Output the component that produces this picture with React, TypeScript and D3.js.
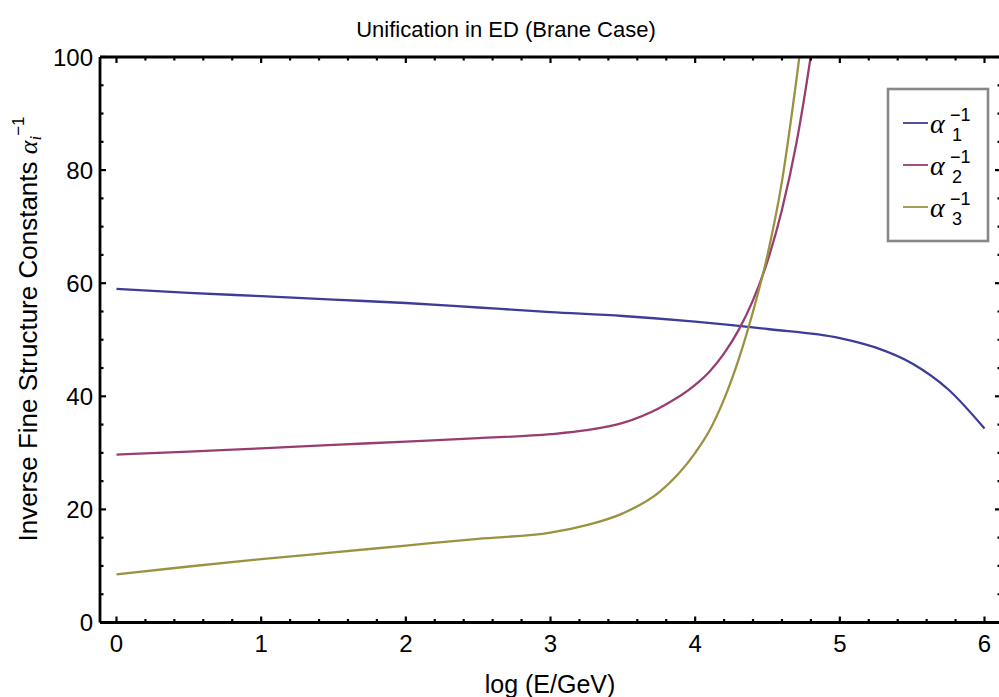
import React from "react";
import * as d3 from "d3";

// ---- data ----
const blueX = [0, 0.5, 1, 1.5, 2, 2.5, 3, 3.5, 4, 4.5, 5, 5.25, 5.5, 5.75, 6];
const blueY = [59.0, 58.3, 57.7, 57.1, 56.5, 55.7, 54.9, 54.2, 53.2, 51.9, 50.3, 48.6, 45.8, 41.2, 34.3];

const purpleX = [0, 0.5, 1, 1.5, 2, 2.5, 3, 3.25, 3.5, 3.75, 4, 4.1, 4.2, 4.3, 4.4, 4.5, 4.6, 4.7, 4.8, 4.86];
const purpleY = [29.7, 30.2, 30.8, 31.4, 32.0, 32.6, 33.3, 34.0, 35.3, 37.9, 42.0, 44.4, 47.6, 51.7, 57.0, 63.9, 73.0, 84.8, 100.3, 111];

const oliveX = [0, 0.5, 1, 1.5, 2, 2.5, 3, 3.25, 3.5, 3.75, 4, 4.1, 4.2, 4.3, 4.4, 4.5, 4.6, 4.7, 4.78];
const oliveY = [8.5, 9.9, 11.2, 12.4, 13.6, 14.8, 15.9, 17.2, 19.3, 23.0, 30.0, 34.0, 39.5, 46.5, 55.0, 65.0, 78.0, 96.0, 112];

const seriesNames = ["1", "2", "3"];
const seriesColors = ["#3d3d99", "#993d71", "#9a9240"];

const xMajorTicks = [0, 1, 2, 3, 4, 5, 6];
const yMajorTicks = [0, 20, 40, 60, 80, 100];

const titleText = "Unification in ED (Brane Case)";
const xLabelText = "log (E/GeV)";
const yLabelText = "Inverse Fine Structure Constants ";

export default function App() {
  const W = 999;
  const H = 697;
  const left = 100, right = 1001, top = 57, bottom = 622.5;
  const x = d3.scaleLinear().domain([-0.114, 6.114]).range([left, right]);
  const y = d3.scaleLinear().domain([0, 100]).range([bottom, top]);

  const xMinor = d3.range(0, 6.0001, 0.2).filter((v) => Math.abs(v - Math.round(v)) > 1e-6);
  const yMinor = d3.range(0, 100.001, 5).filter((v) => v % 20 !== 0);

  const line = d3
    .line<[number, number]>()
    .x((d) => x(d[0]))
    .y((d) => y(d[1]))
    .curve(d3.curveMonotoneX);

  const series = [
    blueX.map((v, i) => [v, blueY[i]] as [number, number]),
    purpleX.map((v, i) => [v, purpleY[i]] as [number, number]),
    oliveX.map((v, i) => [v, oliveY[i]] as [number, number]),
  ];

  const font = "'Liberation Sans', Arial, sans-serif";
  const mathFont = "'Liberation Serif', 'Times New Roman', serif";
  const majorLen = 6;
  const minorLen = 3.5;
  const axisW = 2.8;

  const legendX = 888, legendY = 89, legendW = 100, legendH = 152;
  const legendRows = [123, 165, 207];

  return (
    <svg
      width={W}
      height={H}
      style={{ position: "absolute", left: 0, top: 0, background: "#fff" }}
    >
      <defs>
        <clipPath id="plotClip">
          <rect x={left} y={top} width={right - left} height={bottom - top} />
        </clipPath>
      </defs>

      {/* title */}
      <text x={506} y={37} textAnchor="middle" fontFamily={font} fontSize={22} fill="#000">
        {titleText}
      </text>

      {/* curves */}
      <g clipPath="url(#plotClip)">
        {series.map((s, i) => (
          <path key={i} d={line(s) || ""} fill="none" stroke={seriesColors[i]} strokeWidth={2.3} />
        ))}
      </g>

      {/* frame */}
      <g stroke="#000" strokeWidth={axisW} fill="none">
        <line x1={left} y1={bottom} x2={right} y2={bottom} />
        <line x1={left} y1={top} x2={right} y2={top} />
        <line x1={left} y1={top} x2={left} y2={bottom} />
        <line x1={right} y1={top} x2={right} y2={bottom} />
      </g>

      {/* ticks */}
      <g stroke="#000" strokeWidth={2.2}>
        {xMajorTicks.map((t) => (
          <g key={"xm" + t}>
            <line x1={x(t)} x2={x(t)} y1={bottom} y2={bottom - majorLen} />
            <line x1={x(t)} x2={x(t)} y1={top} y2={top + majorLen} />
          </g>
        ))}
        {xMinor.map((t, i) => (
          <g key={"xn" + i}>
            <line x1={x(t)} x2={x(t)} y1={bottom} y2={bottom - minorLen} />
            <line x1={x(t)} x2={x(t)} y1={top} y2={top + minorLen} />
          </g>
        ))}
        {yMajorTicks.map((t) => (
          <g key={"ym" + t}>
            <line x1={left} x2={left + majorLen} y1={y(t)} y2={y(t)} />
            <line x1={right} x2={right - majorLen} y1={y(t)} y2={y(t)} />
          </g>
        ))}
        {yMinor.map((t, i) => (
          <g key={"yn" + i}>
            <line x1={left} x2={left + minorLen} y1={y(t)} y2={y(t)} />
            <line x1={right} x2={right - minorLen} y1={y(t)} y2={y(t)} />
          </g>
        ))}
      </g>

      {/* tick labels */}
      <g fontFamily={font} fontSize={24} fill="#000">
        {xMajorTicks.map((t) => (
          <text key={"xl" + t} x={x(t)} y={652} textAnchor="middle">
            {t}
          </text>
        ))}
        {yMajorTicks.map((t) => (
          <text key={"yl" + t} x={93} y={y(t) + 8.5} textAnchor="end">
            {t}
          </text>
        ))}
      </g>

      {/* axis labels */}
      <text x={550} y={693} textAnchor="middle" fontFamily={font} fontSize={25} fill="#000">
        {xLabelText}
      </text>
      <text
        transform={`translate(37, 329) rotate(-90)`}
        textAnchor="middle"
        fontFamily={font}
        fontSize={26}
        fill="#000"
      >
        {yLabelText}
        <tspan fontFamily={mathFont} fontStyle="italic" fontSize={26}>α</tspan>
        <tspan fontFamily={mathFont} fontStyle="italic" fontSize={17} dy={4}>i</tspan>
        <tspan fontSize={17} dy={-17}>−1</tspan>
      </text>

      {/* legend */}
      <rect
        x={legendX}
        y={legendY}
        width={legendW}
        height={legendH}
        fill="#fff"
        stroke="#888"
        strokeWidth={2.6}
      />
      {seriesNames.map((n, i) => {
        const ry = legendRows[i];
        return (
          <g key={"lg" + i}>
            <line x1={903} x2={928} y1={ry} y2={ry} stroke={seriesColors[i]} strokeWidth={1.8} />
            <text x={930} y={ry + 10} fontFamily={mathFont} fontStyle="italic" fontSize={28} fill="#000">
              α
            </text>
            <text x={952} y={ry + 18} fontFamily={font} fontSize={18} fill="#000">
              {n}
            </text>
            <text x={950} y={ry - 2} fontFamily={font} fontSize={18} fill="#000">
              −1
            </text>
          </g>
        );
      })}
    </svg>
  );
}
